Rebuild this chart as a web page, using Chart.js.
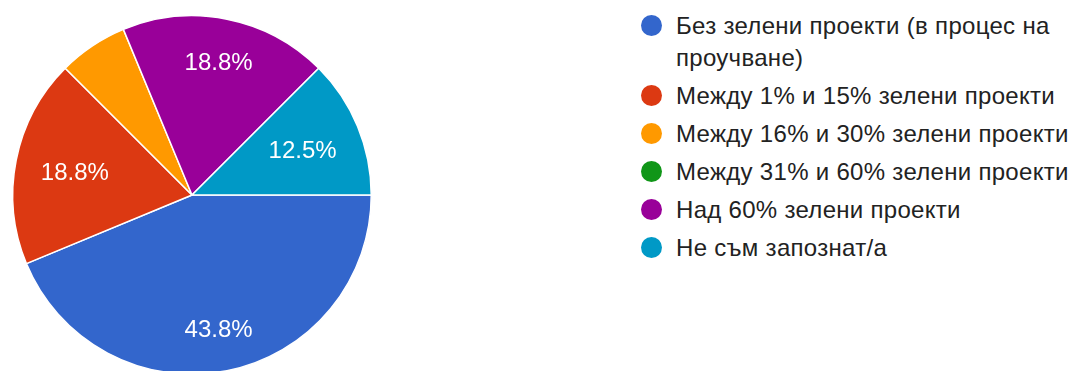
<!DOCTYPE html>
<html>
<head>
<meta charset="utf-8">
<script src="https://cdn.jsdelivr.net/npm/chart.js@4.4.1/dist/chart.umd.min.js"></script>
<style>
  html, body { margin: 0; padding: 0; background: #fff; width: 1073px; height: 371px; overflow: hidden; }
  #wrap { position: absolute; left: 0; top: 0; width: 400px; height: 400px; }
  #legend { position: absolute; left: 641px; top: 10px; font-family: "Liberation Sans", Arial, sans-serif; font-size: 24px; letter-spacing: 0.3px; color: #222; }
  .item { display: flex; align-items: flex-start; margin-bottom: 6px; }
  .dot { width: 21px; height: 21px; border-radius: 50%; margin-top: 5px; margin-right: 14px; flex: none; }
  .txt { width: 405px; line-height: 32px; }
</style>
</head>
<body>
<div id="wrap"><canvas id="c" width="400" height="400"></canvas></div>
<div id="legend"></div>
<script>
const categories = [
  "Без зелени проекти (в процес на проучване)",
  "Между 1% и 15% зелени проекти",
  "Между 16% и 30% зелени проекти",
  "Между 31% и 60% зелени проекти",
  "Над 60% зелени проекти",
  "Не съм запознат/а"
];
const responses = [7, 3, 1, 0, 3, 2];
const colors = ["#3366cc", "#dc3912", "#ff9900", "#109618", "#990099", "#0099c6"];

// Legend
const legend = document.getElementById('legend');
categories.forEach((c, i) => {
  const it = document.createElement('div');
  it.className = 'item';
  const d = document.createElement('span');
  d.className = 'dot';
  d.style.background = colors[i];
  const t = document.createElement('span');
  t.className = 'txt';
  t.textContent = c;
  it.appendChild(d); it.appendChild(t);
  legend.appendChild(it);
});

const sliceLabels = {
  id: 'sliceLabels',
  afterDatasetsDraw(chart) {
    const ctx = chart.ctx;
    const meta = chart.getDatasetMeta(0);
    const data = chart.data.datasets[0].data;
    const total = data.reduce((a, b) => a + b, 0);
    const fs = 24;
    ctx.save();
    ctx.font = fs + 'px "Liberation Sans", Arial, sans-serif';
    ctx.fillStyle = '#ffffff';
    ctx.textAlign = 'center';
    ctx.textBaseline = 'alphabetic';
    meta.data.forEach((arc, i) => {
      const pct = data[i] / total * 100;
      if (pct < 10) return;
      const p = arc.getProps(['x', 'y', 'startAngle', 'endAngle', 'outerRadius'], true);
      const a = (p.startAngle + p.endAngle) / 2;
      const txt = pct.toFixed(1) + '%';
      const w = ctx.measureText(txt).width;
      const h = fs * 0.716;
      const D = p.outerRadius * 0.862;
      const b = Math.abs(Math.cos(a)) * w / 2 + Math.abs(Math.sin(a)) * h / 2;
      const c = (w * w + h * h) / 4 - D * D;
      const r = -b + Math.sqrt(b * b - c);
      const x = p.x + r * Math.cos(a);
      const y = p.y + r * Math.sin(a);
      ctx.fillText(txt, x, y + h / 2);
    });
    ctx.restore();
  }
};

new Chart(document.getElementById('c'), {
  type: 'pie',
  data: {
    labels: categories,
    datasets: [{
      data: responses,
      backgroundColor: colors,
      borderColor: '#ffffff',
      borderWidth: 1.5
    }]
  },
  options: {
    responsive: false,
    animation: false,
    rotation: 90,
    layout: { padding: { left: 12, right: 28, top: 15, bottom: 25 } },
    plugins: { legend: { display: false }, tooltip: { enabled: false } }
  },
  plugins: [sliceLabels]
});
</script>
</body>
</html>
